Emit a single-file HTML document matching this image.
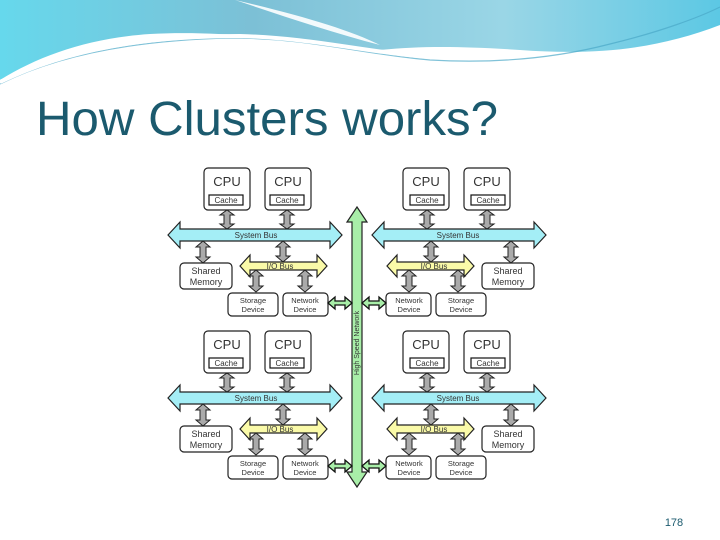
<!DOCTYPE html>
<html><head><meta charset="utf-8"><style>
html,body{margin:0;padding:0;background:#fff;}
svg{display:block;}
.t{font-family:"Liberation Sans",sans-serif;fill:#333;text-anchor:middle;}
</style></head><body>
<svg width="720" height="540" viewBox="0 0 720 540" xmlns="http://www.w3.org/2000/svg">
<defs>
<linearGradient id="hg" x1="0" y1="0" x2="1" y2="0">
<stop offset="0" stop-color="#66d8ec"/><stop offset="0.35" stop-color="#7cc0d6"/><stop offset="0.7" stop-color="#9ad6e6"/><stop offset="1" stop-color="#5cc8e4"/>
</linearGradient>
<g id="q">
 <rect x="204" y="168" width="46" height="42" rx="4" fill="#fff" stroke="#222" stroke-width="1.2"/>
 <rect x="265" y="168" width="46" height="42" rx="4" fill="#fff" stroke="#222" stroke-width="1.2"/>
 <rect x="209" y="195" width="34" height="10" fill="#fff" stroke="#111" stroke-width="1.2"/>
 <rect x="270" y="195" width="34" height="10" fill="#fff" stroke="#111" stroke-width="1.2"/>
 <path d="M227,210 L234,215 L230,215 L230,224 L234,224 L227,229 L220,224 L224,224 L224,215 L220,215 Z" fill="#aaa" stroke="#222"/>
 <path d="M287,210 L294,215 L290,215 L290,224 L294,224 L287,229 L280,224 L284,224 L284,215 L280,215 Z" fill="#aaa" stroke="#222"/>
 <path d="M168,235 L180,222 L180,229 L330,229 L330,222 L342,235 L330,248 L330,241 L180,241 L180,248 Z" fill="#a4eef6" stroke="#222" stroke-width="1.2"/>
 <path d="M203,241 L210,247 L206,247 L206,257 L210,257 L203,263 L196,257 L200,257 L200,247 L196,247 Z" fill="#aaa" stroke="#222"/>
 <path d="M283,241 L290,247 L286,247 L286,256 L290,256 L283,262 L276,256 L280,256 L280,247 L276,247 Z" fill="#aaa" stroke="#222"/>
 <rect x="180" y="263" width="52" height="26" rx="4" fill="#fff" stroke="#222" stroke-width="1.2"/>
 <path d="M240,266 L250,255 L250,262 L317,262 L317,255 L327,266 L317,277 L317,270 L250,270 L250,277 Z" fill="#fafaa8" stroke="#222" stroke-width="1.2"/>
 <path d="M256,270 L263,276 L259,276 L259,286 L263,286 L256,292 L249,286 L253,286 L253,276 L249,276 Z" fill="#aaa" stroke="#222"/>
 <path d="M305,270 L312,276 L308,276 L308,286 L312,286 L305,292 L298,286 L302,286 L302,276 L298,276 Z" fill="#aaa" stroke="#222"/>
 <rect x="228" y="293" width="50" height="23" rx="4" fill="#fff" stroke="#222" stroke-width="1.2"/>
 <rect x="283" y="293" width="45" height="23" rx="4" fill="#fff" stroke="#222" stroke-width="1.2"/>
 <path d="M328,303 L335,297 L335,301 L345,301 L345,297 L352,303 L345,309 L345,305 L335,305 L335,309 Z" fill="#a8eea8" stroke="#111" stroke-width="1.3"/>
</g>
</defs>
<!-- header -->
<path d="M0,0 L720,0 L720,25 C660,48 600,56 520,50 C460,46 420,46 380,50 C300,40 220,30 150,34 C90,38 40,55 0,80 Z" fill="url(#hg)"/>
<path d="M235,0 C300,15 350,30 380,45 C330,32 280,15 235,0 Z" fill="#fff" opacity="0.9"/>
<path d="M0,84 C60,54 140,40 230,38 C310,38 360,54 430,60 C500,64 560,57 610,44 C660,32 700,17 720,7" fill="none" stroke="#4aa8c8" stroke-width="1.2" opacity="0.7"/>
<path d="M0,82 C70,48 150,36 240,36 C320,38 380,56 450,58" fill="none" stroke="#fff" stroke-width="4"/>
<text x="36" y="135" font-family="Liberation Sans,sans-serif" font-size="48" fill="#1b5a6e" textLength="462" lengthAdjust="spacingAndGlyphs">How Clusters works?</text>
<text x="674" y="526" font-family="Liberation Sans,sans-serif" font-size="11" fill="#1b5a6e" text-anchor="middle">178</text>
<!-- diagram -->
<rect x="157" y="155" width="405" height="337" fill="#fff"/>
<path d="M357,207 L367,222 L362,222 L362,472 L367,472 L357,487 L347,472 L352,472 L352,222 L347,222 Z" fill="#a8eea8" stroke="#222" stroke-width="1.2"/>
<use href="#q"/>
<use href="#q" transform="translate(714,0) scale(-1,1)"/>
<use href="#q" transform="translate(0,163)"/>
<use href="#q" transform="translate(714,163) scale(-1,1)"/>
<text class="t" transform="translate(359,343) rotate(-90)" font-size="7">High Speed Network</text>
<g>
 <text class="t" x="227" y="186" font-size="13">CPU</text>
 <text class="t" x="288" y="186" font-size="13">CPU</text>
 <text class="t" x="226" y="203" font-size="8">Cache</text>
 <text class="t" x="287" y="203" font-size="8">Cache</text>
 <text class="t" x="256" y="238" font-size="8">System Bus</text>
 <text class="t" x="280" y="269" font-size="8">I/O Bus</text>
 <text class="t" x="206" y="274" font-size="9">Shared</text>
 <text class="t" x="206" y="285" font-size="9">Memory</text>
 <text class="t" x="253" y="303" font-size="7.5">Storage</text>
 <text class="t" x="253" y="312" font-size="7.5">Device</text>
 <text class="t" x="305" y="303" font-size="7.5">Network</text>
 <text class="t" x="305" y="312" font-size="7.5">Device</text>
 <text class="t" x="487" y="186" font-size="13">CPU</text>
 <text class="t" x="426" y="186" font-size="13">CPU</text>
 <text class="t" x="488" y="203" font-size="8">Cache</text>
 <text class="t" x="427" y="203" font-size="8">Cache</text>
 <text class="t" x="458" y="238" font-size="8">System Bus</text>
 <text class="t" x="434" y="269" font-size="8">I/O Bus</text>
 <text class="t" x="508" y="274" font-size="9">Shared</text>
 <text class="t" x="508" y="285" font-size="9">Memory</text>
 <text class="t" x="461" y="303" font-size="7.5">Storage</text>
 <text class="t" x="461" y="312" font-size="7.5">Device</text>
 <text class="t" x="409" y="303" font-size="7.5">Network</text>
 <text class="t" x="409" y="312" font-size="7.5">Device</text>
</g>
<g transform="translate(0,163)">
 <text class="t" x="227" y="186" font-size="13">CPU</text>
 <text class="t" x="288" y="186" font-size="13">CPU</text>
 <text class="t" x="226" y="203" font-size="8">Cache</text>
 <text class="t" x="287" y="203" font-size="8">Cache</text>
 <text class="t" x="256" y="238" font-size="8">System Bus</text>
 <text class="t" x="280" y="269" font-size="8">I/O Bus</text>
 <text class="t" x="206" y="274" font-size="9">Shared</text>
 <text class="t" x="206" y="285" font-size="9">Memory</text>
 <text class="t" x="253" y="303" font-size="7.5">Storage</text>
 <text class="t" x="253" y="312" font-size="7.5">Device</text>
 <text class="t" x="305" y="303" font-size="7.5">Network</text>
 <text class="t" x="305" y="312" font-size="7.5">Device</text>
 <text class="t" x="487" y="186" font-size="13">CPU</text>
 <text class="t" x="426" y="186" font-size="13">CPU</text>
 <text class="t" x="488" y="203" font-size="8">Cache</text>
 <text class="t" x="427" y="203" font-size="8">Cache</text>
 <text class="t" x="458" y="238" font-size="8">System Bus</text>
 <text class="t" x="434" y="269" font-size="8">I/O Bus</text>
 <text class="t" x="508" y="274" font-size="9">Shared</text>
 <text class="t" x="508" y="285" font-size="9">Memory</text>
 <text class="t" x="461" y="303" font-size="7.5">Storage</text>
 <text class="t" x="461" y="312" font-size="7.5">Device</text>
 <text class="t" x="409" y="303" font-size="7.5">Network</text>
 <text class="t" x="409" y="312" font-size="7.5">Device</text>
</g>
</svg>
</body></html>
